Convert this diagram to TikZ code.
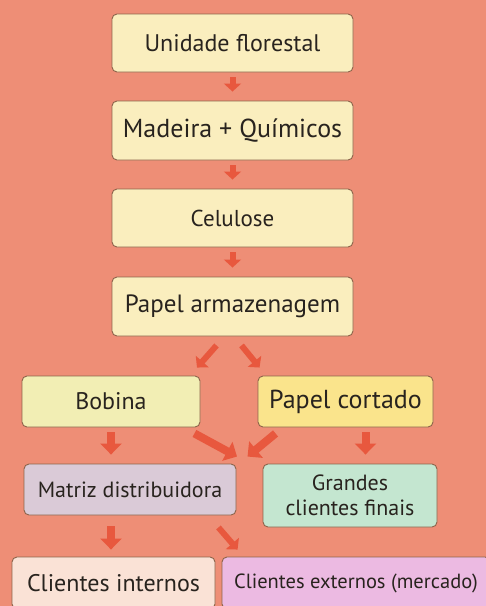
\documentclass[tikz,border=0pt]{standalone}
\usepackage{fontspec}
\setmainfont{PT Sans}
\usetikzlibrary{arrows.meta}
\definecolor{bg}{RGB}{238,142,118}
\definecolor{edge}{RGB}{140,100,75}
\definecolor{arr}{RGB}{232,88,62}
\definecolor{txt}{RGB}{40,35,30}
\definecolor{cyellow}{RGB}{250,238,190}
\definecolor{cbob}{RGB}{242,238,180}
\definecolor{cpc}{RGB}{250,228,140}
\definecolor{cmat}{RGB}{218,202,215}
\definecolor{cgra}{RGB}{196,230,208}
\definecolor{cci}{RGB}{250,226,214}
\definecolor{cce}{RGB}{236,186,226}
\tikzset{
  box/.style={draw=edge, line width=0.9pt, rounded corners=5pt, inner sep=0pt,
    font=\fontsize{24}{26}\selectfont, text=txt, align=center},
  fs/.style={font=\fontsize{#1}{#1*1.1}\selectfont},
  smallarr/.style={draw=arr, line width=6pt, -{Triangle[width=17pt,length=8pt]}},
  bigarr/.style={draw=arr, line width=8pt, -{Triangle[width=21pt,length=11pt]}}
}
\begin{document}
\begin{tikzpicture}[x=1pt,y=-1pt]
\useasboundingbox (0,0) rectangle (486,606);
\clip (0,0) rectangle (486,606);
\fill[bg] (0,0) rectangle (486,606);
\node[box, fill=cyellow, minimum width=241pt, minimum height=58pt, font=\fontsize{24}{26}\selectfont] (n1) at (232.5,43) {Unidade florestal};
\node[box, fill=cyellow, minimum width=241pt, minimum height=59pt, font=\fontsize{26}{28}\selectfont] (n2) at (232.5,130.5) {Madeira + Químicos};
\node[box, fill=cyellow, minimum width=241pt, minimum height=58pt, font=\fontsize{23}{25}\selectfont] (n3) at (232.5,218) {Celulose};
\node[box, fill=cyellow, minimum width=241pt, minimum height=59pt, font=\fontsize{25}{27}\selectfont] (n4) at (232.5,306.5) {Papel armazenagem};
\node[box, fill=cbob, minimum width=178pt, minimum height=51pt, font=\fontsize{24}{26}\selectfont] (bob) at (111,401.5) {Bobina};
\node[box, fill=cpc, minimum width=175pt, minimum height=51pt, font=\fontsize{26}{28}\selectfont] (pc) at (345.5,401.5) {Papel cortado};
\node[box, fill=cmat, minimum width=212pt, minimum height=51pt, font=\fontsize{22}{24}\selectfont] (mat) at (130,489.5) {Matriz distribuidora};
\node[box, fill=cgra, minimum width=174pt, minimum height=63pt, font=\fontsize{22}{25}\selectfont] (gra) at (350,495.5) {Grandes\\clientes finais};
\node[box, fill=cci, minimum width=203pt, minimum height=52pt, font=\fontsize{24}{26}\selectfont] (ci) at (113.5,583) {Clientes internos};
\node[box, fill=cce, minimum width=268pt, minimum height=52pt, font=\fontsize{20.5}{23}\selectfont] (ce) at (356,583) {Clientes externos (mercado)};
% arrows
\draw[smallarr] ([yshift=-5pt]n1.south) -- ([yshift=9pt]n2.north);
\draw[smallarr] ([yshift=-5pt]n2.south) -- ([yshift=9pt]n3.north);
\draw[smallarr] ([yshift=-5pt]n3.south) -- ([yshift=9pt]n4.north);
\draw[smallarr] ([xshift=-16pt,yshift=-9pt]n4.south) -- ([xshift=86pt,yshift=8pt]bob.north);
\draw[smallarr] ([xshift=9pt,yshift=-9pt]n4.south) -- ([xshift=2pt,yshift=8pt]pc.north west);
\draw[bigarr] ([yshift=-5pt]bob.south) -- ([yshift=9pt]bob.south |- mat.north);
\draw[bigarr] ([xshift=-6pt,yshift=-6pt]bob.south east) -- ([xshift=107pt,yshift=7pt]mat.north);
\draw[bigarr] ([xshift=18pt,yshift=-6pt]pc.south west) -- ([xshift=-15pt,yshift=7pt]gra.north west);
\draw[bigarr] ([xshift=20pt,yshift=-5pt]pc.south) -- ([xshift=20pt,yshift=9pt]pc.south |- gra.north);
\draw[bigarr] ([xshift=-19pt,yshift=-11pt]mat.south) -- ([xshift=-19pt,yshift=7pt]mat.south |- ci.north);
\draw[smallarr] ([xshift=-18pt,yshift=-12pt]mat.south east) -- ([xshift=16pt,yshift=7pt]ce.north west);
\end{tikzpicture}
\end{document}
